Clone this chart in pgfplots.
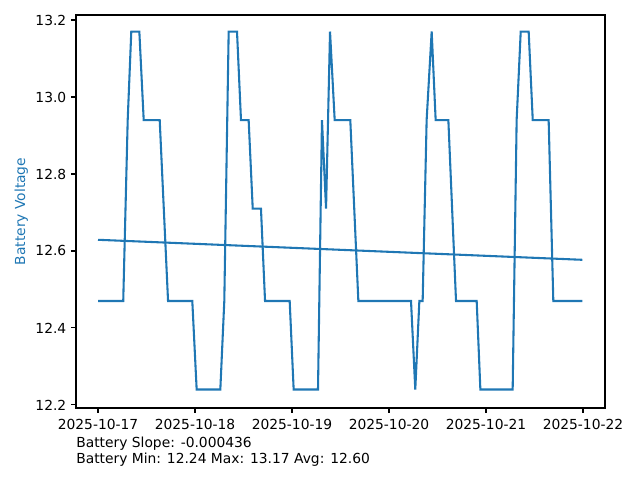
\documentclass[border=0pt]{standalone}
\usepackage{pgfplots}
\pgfplotsset{compat=1.18}
\usepackage{fontspec}
\setmainfont{DejaVu Sans}
\definecolor{tabblue}{HTML}{1F77B4}
\begin{document}
\begin{tikzpicture}[x=1in,y=1in]
\path (-0.76,-0.72) rectangle (5.64,4.08);
\begin{axis}[
  at={(0,0)}, anchor=south west,
  scale only axis, width=5.29in, height=3.93in,
  xmin=-0.227, xmax=5.227, ymin=12.192, ymax=13.213,
  xtick={0,1,2,3,4,5},
  xticklabels={2025-10-17,2025-10-18,2025-10-19,2025-10-20,2025-10-21,2025-10-22},
  ytick={12.2,12.4,12.6,12.8,13.0,13.2},
  yticklabel style={/pgf/number format/fixed,/pgf/number format/fixed zerofill,/pgf/number format/precision=1},
  /pgf/number format/assume math mode=true,
  tick align=outside, xtick pos=left, ytick pos=left,
  major tick length=3.5pt,
  every tick/.style={black, line width=0.8pt},
  axis line style={line width=0.8pt},
  ylabel={Battery Voltage},
  ylabel style={text=tabblue, yshift=-1.5pt},
  xticklabel style={yshift=-1pt},
  tick label style={font=\fontsize{10}{12}\selectfont},
  label style={font=\fontsize{10}{12}\selectfont},
]
\addplot[tabblue, line width=1.5pt] coordinates {
(0,12.47) (0.26,12.47) (0.306,12.94) (0.343,13.17) (0.426,13.17) (0.471,12.94)
(0.636,12.94) (0.722,12.47) (0.972,12.47) (1.017,12.24) (1.261,12.24) (1.302,12.47)
(1.347,13.17) (1.433,13.17) (1.474,12.94) (1.553,12.94) (1.595,12.71) (1.680,12.71)
(1.722,12.47) (1.976,12.47) (2.017,12.24) (2.268,12.24) (2.309,12.94) (2.351,12.71)
(2.392,13.17) (2.440,12.94) (2.601,12.94) (2.684,12.47) (3.227,12.47) (3.271,12.24)
(3.313,12.47) (3.347,12.47) (3.388,12.94) (3.440,13.17) (3.481,12.94) (3.612,12.94)
(3.691,12.47) (3.904,12.47) (3.942,12.24) (4.275,12.24) (4.316,12.94) (4.358,13.17)
(4.440,13.17) (4.482,12.94) (4.646,12.94) (4.694,12.47) (4.993,12.47)
};
\addplot[tabblue, line width=1.5pt] coordinates {(0,12.629) (4.993,12.577)};
\end{axis}
\node[anchor=base west, inner sep=0, font=\fontsize{10}{12}\selectfont] at (0,-0.39) {Battery Slope: -0.000436};
\node[anchor=base west, inner sep=0, font=\fontsize{10}{12}\selectfont] at (0,-0.55) {Battery Min: 12.24 Max: 13.17 Avg: 12.60};
\end{tikzpicture}
\end{document}
